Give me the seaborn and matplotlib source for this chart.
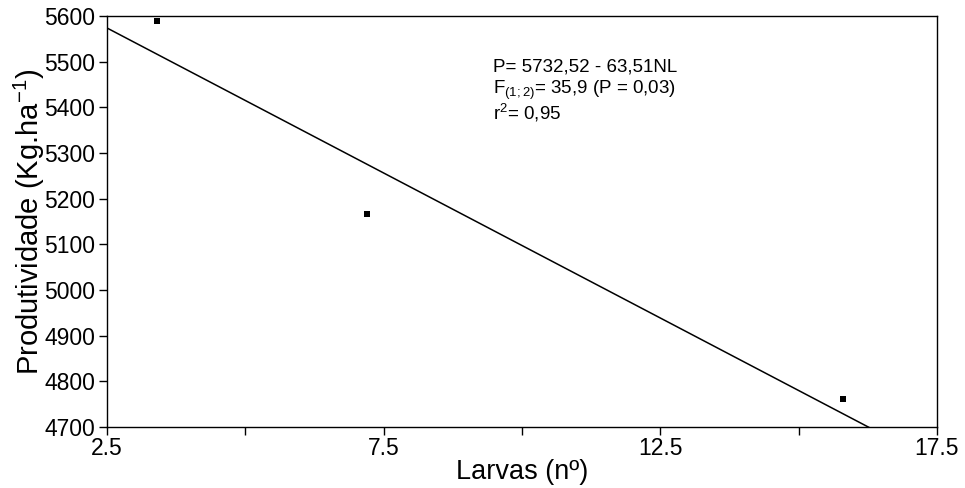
import matplotlib
matplotlib.use("Agg")
import matplotlib.pyplot as plt
import seaborn as sns
import numpy as np
import pandas as pd

# Data
larvas = [3.4, 7.2, 15.8]
produtividade = [5588, 5166, 4762]
intercept = 5732.52
slope = -63.51
x_ticks_major = [2.5, 7.5, 12.5, 17.5]
x_ticks_minor = [5.0, 10.0, 15.0]
y_ticks = [4700, 4800, 4900, 5000, 5100, 5200, 5300, 5400, 5500, 5600]
annot_lines = ["P= 5732,52 - 63,51NL",
               "F$_{(1;2)}$= 35,9 (P = 0,03)",
               "r$^{2}$= 0,95"]

sns.set_theme(style="ticks")
plt.rcParams['font.family'] = ['Liberation Sans', 'DejaVu Sans']
plt.rcParams['mathtext.fontset'] = 'custom'
plt.rcParams['mathtext.rm'] = 'Liberation Sans'
plt.rcParams['mathtext.it'] = 'Liberation Sans'
plt.rcParams['mathtext.bf'] = 'Liberation Sans'

W, H = 965, 488
fig = plt.figure(figsize=(W / 100, H / 100), dpi=100)
ax = fig.add_axes([107 / W, 1 - 427 / H, (937 - 107) / W, (427 - 16) / H])

df = pd.DataFrame({"x": larvas, "y": produtividade})
sns.scatterplot(data=df, x="x", y="y", ax=ax, marker="s", s=20, color="black",
                edgecolor="black", linewidth=0, zorder=3)

xl = np.array([2.5, 17.5])
line_df = pd.DataFrame({"x": xl, "y": intercept + slope * xl})
sns.lineplot(data=line_df, x="x", y="y", ax=ax, color="black", linewidth=1.1)

ax.set_xlim(2.5, 17.5)
ax.set_ylim(4700, 5600)
ax.set_xticks(x_ticks_major)
ax.set_xticklabels([str(v) for v in x_ticks_major])
ax.set_xticks(x_ticks_minor, minor=True)
ax.set_yticks(y_ticks)
ax.set_yticklabels([str(v) for v in y_ticks])

for s in ax.spines.values():
    s.set_color("black")
    s.set_linewidth(1.0)
ax.tick_params(axis="both", which="both", direction="out", length=5.5, width=1.0,
               color="black", labelsize=16.5, labelcolor="black")
ax.tick_params(axis="x", pad=2)
ax.tick_params(axis="y", pad=3)

ax.set_xlabel("Larvas (nº)", fontsize=19.5, color="black", labelpad=-1)
ax.set_ylabel("Produtividade (Kg.ha$^{-1}$)", fontsize=21, color="black", labelpad=-2)

ys = [67, 90, 113]
for txt, yy in zip(annot_lines, ys):
    fig.text(493 / W, 1 - yy / H, txt, fontsize=13.5, va="center", ha="left", color="black")

fig.savefig("out.png", dpi=100)
